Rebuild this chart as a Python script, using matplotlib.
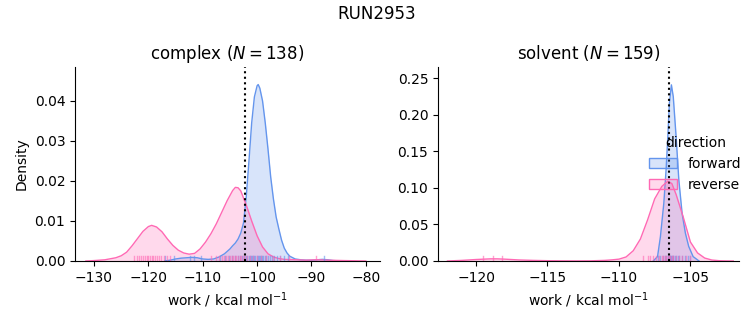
import numpy as np
import matplotlib
matplotlib.use("Agg")
import matplotlib.pyplot as plt
from matplotlib.patches import Patch
from matplotlib.colors import to_rgba

# colours for the two directions
FWD = "cornflowerblue"
REV = "hotpink"

# complex leg: KDE (work, density)
complex_fwd_x = [-117.0, -116.0, -115.0, -114.0, -113.0, -112.0, -111.0, -110.0, -109.0, -108.0,
                 -107.0, -106.0, -105.0, -104.5, -104.0, -103.5, -103.0, -102.5, -102.0, -101.5,
                 -101.0, -100.5, -100.0, -99.8, -99.5, -99.0, -98.5, -98.0, -97.5, -97.0,
                 -96.5, -96.0, -95.5, -95.0, -94.5, -94.0, -93.0, -92.0, -91.0, -90.0,
                 -89.0, -88.0, -87.0, -86.0, -84.5]
complex_fwd_y = [0.0, 0.0002, 0.0005, 0.0007, 0.0008, 0.0009, 0.0008, 0.0005, 0.0004, 0.0005,
                 0.0010, 0.0018, 0.0030, 0.0038, 0.0045, 0.0055, 0.0070, 0.0095, 0.0160, 0.0250,
                 0.0345, 0.0410, 0.0438, 0.0441, 0.0432, 0.0400, 0.0345, 0.0280, 0.0210, 0.0155,
                 0.0110, 0.0080, 0.0052, 0.0032, 0.0020, 0.0012, 0.0005, 0.0003, 0.0002, 0.0002,
                 0.0003, 0.0004, 0.0003, 0.0001, 0.0]

complex_rev_x = [-131.5, -130.0, -128.0, -126.0, -125.0, -124.0, -123.0, -122.0, -121.0, -120.0,
                 -119.4, -118.5, -117.5, -116.5, -115.5, -114.5, -113.5, -112.5, -111.5, -110.5,
                 -109.5, -108.5, -107.5, -106.5, -105.5, -104.5, -104.0, -103.5, -103.0, -102.0,
                 -101.0, -100.0, -99.0, -98.0, -97.0, -96.0, -95.0, -93.0, -91.0, -89.0,
                 -87.0, -84.0, -80.0]
complex_rev_y = [0.0, 0.0001, 0.0003, 0.0008, 0.0013, 0.0022, 0.0038, 0.0056, 0.0074, 0.0086,
                 0.0089, 0.0085, 0.0073, 0.0055, 0.0039, 0.0027, 0.0020, 0.0017, 0.0019, 0.0030,
                 0.0047, 0.0068, 0.0093, 0.0122, 0.0151, 0.0176, 0.0184, 0.0183, 0.0175, 0.0140,
                 0.0100, 0.0063, 0.0035, 0.0018, 0.0010, 0.0006, 0.0004, 0.0003, 0.0002, 0.0003,
                 0.0002, 0.0001, 0.0]

# solvent leg
solvent_fwd_x = [-107.6, -107.3, -107.1, -106.86, -106.7, -106.58, -106.47, -106.33, -106.2, -106.0,
                 -105.81, -105.58, -105.35, -105.12, -104.81, -104.4]
solvent_fwd_y = [0.0, 0.006, 0.033, 0.079, 0.125, 0.170, 0.216, 0.241, 0.225, 0.170,
                 0.111, 0.065, 0.038, 0.020, 0.006, 0.0]

solvent_rev_x = [-122.0, -121.0, -120.0, -119.0, -118.5, -118.0, -117.0, -116.0, -115.0, -114.0,
                 -113.0, -112.0, -111.0, -110.5, -110.0, -109.5, -109.0, -108.5, -108.0, -107.5,
                 -107.0, -106.6, -106.3, -106.0, -105.5, -105.0, -104.5, -104.0, -103.5, -103.0,
                 -102.5, -102.0]
solvent_rev_y = [0.0, 0.0008, 0.0020, 0.0029, 0.0029, 0.0025, 0.0014, 0.0008, 0.0004, 0.0002,
                 0.0001, 0.0002, 0.0008, 0.0015, 0.0025, 0.0055, 0.0140, 0.0300, 0.0560, 0.0850,
                 0.1020, 0.1090, 0.1060, 0.0910, 0.0600, 0.0260, 0.0110, 0.0040, 0.0013, 0.0004,
                 0.0001, 0.0]

# individual work values (rug)
complex_fwd_rug = [-117.0, -115.2, -112.3, -111.6, -110.4, -106.8, -105.9, -105.1, -104.6, -104.0,
                   -103.5, -103.1, -102.8, -102.4, -102.1, -101.8, -101.5, -101.3, -101.1, -100.9,
                   -100.7, -100.5, -100.3, -100.1, -99.9, -99.7, -99.5, -99.3, -99.1, -98.9,
                   -98.6, -98.3, -98.0, -97.7, -97.3, -96.9, -96.4, -95.8, -95.1, -94.3, -87.7]
complex_rev_rug = [-122.6, -122.1, -121.7, -121.3, -120.9, -120.6, -120.3, -120.0, -119.7, -119.4,
                   -119.1, -118.8, -118.5, -118.1, -117.7, -117.2, -116.6, -116.0, -108.4, -107.6,
                   -107.0, -106.5, -106.1, -105.7, -105.3, -105.0, -104.7, -104.4, -104.1, -103.8,
                   -103.5, -103.2, -102.9, -102.6, -102.2, -101.8, -101.3, -100.7, -100.0, -99.2,
                   -98.3, -97.1, -95.8, -94.2, -89.2]
solvent_fwd_rug = [-107.3, -107.1, -106.9, -106.8, -106.7, -106.6, -106.55, -106.5, -106.45, -106.4,
                   -106.35, -106.3, -106.25, -106.2, -106.1, -106.0, -105.9, -105.8, -105.6, -105.4,
                   -105.2, -105.0]
solvent_rev_rug = [-119.5, -118.8, -118.2, -108.3, -108.0, -107.8, -107.6, -107.4, -107.2, -107.0,
                   -106.9, -106.8, -106.7, -106.6, -106.5, -106.4, -106.3, -106.2, -106.0, -105.8,
                   -105.6, -105.3, -105.0]

# free energy estimates (dotted lines)
complex_dg = -102.24
solvent_dg = -106.5

panels = [
    dict(title=r"complex ($N = 138$)", fwd=(complex_fwd_x, complex_fwd_y), rev=(complex_rev_x, complex_rev_y),
         rugs=(complex_fwd_rug, complex_rev_rug), dg=complex_dg, xlim=(-133.5, -77.4), ylim=(0, 0.0485),
         rect=[0.0996, 0.197, 0.405, 0.597]),
    dict(title=r"solvent ($N = 159$)", fwd=(solvent_fwd_x, solvent_fwd_y), rev=(solvent_rev_x, solvent_rev_y),
         rugs=(solvent_fwd_rug, solvent_rev_rug), dg=solvent_dg, xlim=(-122.66, -101.6), ylim=(0, 0.2655),
         rect=[0.5817, 0.197, 0.3997, 0.597]),
]

fig = plt.figure(figsize=(7.53, 3.25), dpi=100)
fig.suptitle("RUN2953", fontsize=12, y=0.985)

for i, p in enumerate(panels):
    ax = fig.add_axes(p["rect"])
    for (x, y), c in [(p["fwd"], FWD), (p["rev"], REV)]:
        ax.fill_between(x, y, color=c, alpha=0.25, lw=0)
        ax.plot(x, y, color=c, lw=1)
    for vals, c in zip(p["rugs"], [FWD, REV]):
        for v in vals:
            ax.axvline(v, ymin=0, ymax=0.025, color=c, lw=1, alpha=0.6)
    ax.axvline(p["dg"], color="black", ls=":", lw=1.5)
    ax.set_xlim(*p["xlim"])
    ax.set_ylim(*p["ylim"])
    ax.set_title(p["title"], fontsize=12)
    ax.set_xlabel(r"work / kcal mol$^{-1}$")
    ax.spines["top"].set_visible(False)
    ax.spines["right"].set_visible(False)
    if i == 0:
        ax.set_ylabel("Density")
    else:
        handles = [Patch(facecolor=to_rgba(FWD, 0.25), edgecolor=FWD, label="forward"),
                   Patch(facecolor=to_rgba(REV, 0.25), edgecolor=REV, label="reverse")]
        ax.legend(handles=handles, title="direction", loc="center right", frameon=False,
                  bbox_to_anchor=(1.05, 0.5))

fig.savefig("out.png", dpi=100)
